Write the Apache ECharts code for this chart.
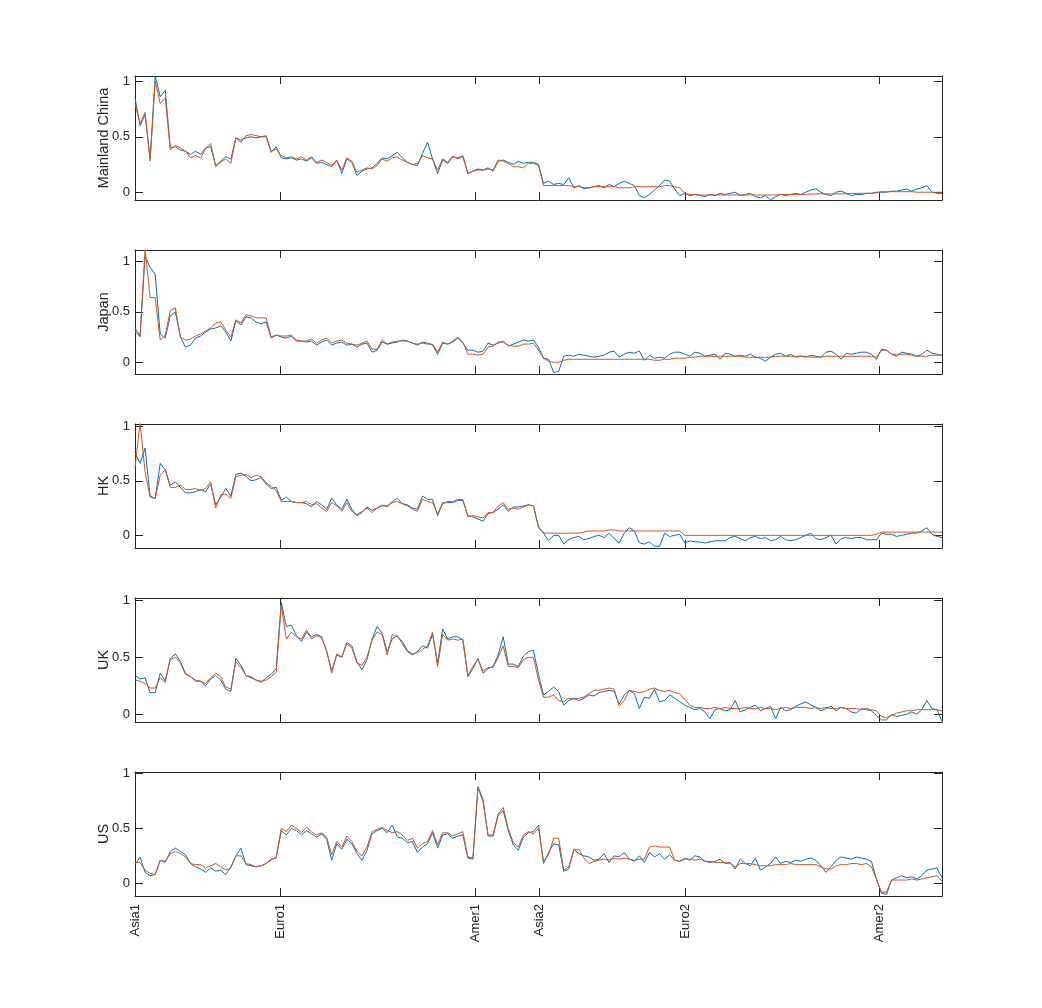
<!DOCTYPE html>
<html>
<head>
<meta charset="utf-8">
<script src="https://cdn.jsdelivr.net/npm/echarts@6/dist/echarts.min.js"></script>
<style>html,body{margin:0;padding:0;background:#fff}#c{width:1042px;height:1008px}</style>
</head>
<body>
<div id="c"></div>
<script>
// ---- tick labels / categories ----
const tickNames = ['Asia1', 'Euro1', 'Amer1', 'Asia2', 'Euro2', 'Amer2'];
const tickPos = [0, 28.75, 67.5, 80.1, 109.1, 147.6];
const yTicks = [0, 0.5, 1];
const panelNames = ['Mainland China', 'Japan', 'HK', 'UK', 'US'];
const yMin = [-0.07, -0.116, -0.116, -0.068, -0.115];
const yMax = [1.048, 1.112, 1.021, 1.02, 1.012];

// ---- series values (161 samples each) ----
const cnBlue = [
.85,.60,.70,.30,1.05,.86,.92,.40,.41,.38,
.37,.34,.37,.34,.40,.41,.24,.28,.32,.30,
.49,.47,.49,.50,.49,.50,.50,.36,.41,.31,
.30,.31,.29,.30,.28,.31,.26,.27,.25,.23,
.29,.17,.30,.27,.15,.19,.21,.22,.26,.31,
.30,.33,.36,.31,.27,.25,.24,.35,.45,.30,
.17,.29,.26,.32,.31,.33,.17,.19,.21,.20,
.22,.19,.28,.29,.27,.25,.28,.26,.27,.27,
.25,.08,.10,.07,.08,.07,.13,.04,.06,.03,
.04,.05,.06,.04,.07,.05,.08,.10,.08,.06,
-.03,-.05,-.02,.02,.06,.11,.10,.03,-.03,-.01,
-.03,-.02,-.03,-.04,-.02,-.03,-.01,-.02,-.01,.00,
-.03,-.02,-.01,-.04,-.05,-.03,-.07,-.04,-.02,-.03,
-.02,-.01,-.02,.00,.02,.03,.00,-.02,-.03,.00,
.01,-.01,-.03,-.02,-.02,-.01,-.01,.00,.00,.00,
.01,.01,.02,.03,.01,.03,.04,.06,.00,-.01,
-.01];
const cnOrange = [
.80,.62,.72,.28,1.00,.80,.85,.38,.42,.40,
.37,.31,.33,.31,.39,.44,.23,.27,.30,.26,
.49,.45,.51,.52,.51,.50,.51,.37,.39,.33,
.31,.32,.30,.32,.29,.32,.27,.29,.27,.24,
.29,.20,.31,.28,.18,.20,.22,.21,.24,.30,
.28,.31,.32,.29,.27,.25,.26,.33,.31,.30,
.20,.30,.27,.33,.30,.32,.17,.19,.20,.20,
.21,.20,.29,.28,.26,.23,.23,.22,.26,.26,
.24,.06,.06,.06,.06,.06,.06,.05,.05,.04,
.04,.05,.05,.05,.05,.05,.04,.04,.04,.05,
.05,.05,.05,.05,.05,.06,.06,.05,.04,-.01,
-.02,-.02,-.025,-.025,-.025,-.025,-.025,-.025,-.025,-.025,
-.025,-.025,-.025,-.025,-.025,-.025,-.025,-.025,-.02,-.02,
-.02,-.02,-.02,-.02,-.015,-.015,-.015,-.015,-.015,-.015,
-.015,-.015,-.01,-.01,-.01,-.01,-.01,-.005,.005,.005,
.005,.005,.005,.005,.005,.00,.00,.00,.00,.00,
.00];
const jpBlue = [
.34,.26,1.05,.94,.87,.28,.24,.46,.50,.25,
.15,.17,.24,.26,.30,.33,.34,.36,.30,.21,
.41,.37,.45,.44,.40,.38,.40,.24,.27,.25,
.24,.26,.21,.21,.20,.21,.17,.20,.22,.17,
.19,.20,.17,.18,.15,.18,.19,.10,.12,.20,
.18,.19,.20,.22,.21,.19,.17,.20,.19,.17,
.08,.19,.18,.20,.24,.19,.12,.12,.10,.11,
.19,.17,.19,.21,.16,.18,.20,.22,.21,.22,
.15,.04,.03,-.10,-.09,.06,.07,.06,.08,.07,
.06,.05,.06,.07,.10,.11,.05,.08,.10,.09,
.11,.02,.07,.04,.05,.04,.08,.10,.10,.08,
.06,.10,.09,.06,.07,.08,.03,.09,.08,.06,
.07,.06,.08,.05,.04,.01,.05,.08,.09,.06,
.08,.05,.06,.05,.07,.06,.05,.10,.11,.08,
.03,.09,.08,.09,.10,.10,.08,.03,.13,.12,
.08,.06,.10,.09,.08,.06,.08,.12,.09,.08,
.07];
const jpOrange = [
.31,.25,1.12,.64,.64,.22,.27,.51,.54,.25,
.22,.23,.26,.28,.31,.34,.39,.40,.32,.25,
.42,.39,.47,.46,.44,.44,.44,.25,.27,.26,
.26,.27,.22,.21,.21,.23,.19,.22,.24,.19,
.21,.22,.19,.18,.17,.19,.21,.13,.13,.22,
.18,.20,.21,.21,.21,.19,.18,.19,.18,.18,
.10,.20,.18,.21,.25,.20,.08,.08,.07,.08,
.15,.16,.20,.20,.17,.16,.16,.18,.18,.19,
.12,.04,.01,.00,.00,.02,.03,.03,.03,.03,
.03,.03,.03,.03,.03,.03,.03,.03,.03,.03,
.03,.03,.03,.02,.02,.03,.03,.04,.04,.04,
.05,.05,.06,.06,.06,.06,.06,.06,.06,.06,
.06,.05,.05,.05,.05,.05,.05,.06,.06,.06,
.06,.06,.06,.06,.05,.05,.05,.06,.06,.06,
.06,.06,.06,.06,.06,.06,.06,.05,.12,.12,
.08,.08,.08,.08,.07,.06,.06,.06,.07,.07,
.07];
const hkBlue = [
.76,.66,.80,.36,.34,.66,.60,.46,.49,.44,
.39,.39,.40,.42,.40,.47,.28,.35,.43,.36,
.56,.57,.54,.50,.51,.53,.47,.43,.44,.32,
.35,.31,.30,.30,.29,.26,.31,.28,.24,.34,
.28,.24,.33,.24,.18,.21,.26,.23,.25,.27,
.27,.31,.34,.29,.28,.25,.24,.36,.33,.33,
.18,.30,.30,.30,.32,.32,.18,.17,.15,.13,
.20,.21,.24,.28,.22,.26,.26,.27,.28,.27,
.08,.02,-.05,.00,.00,-.08,-.04,-.02,-.01,-.04,
-.03,-.01,.00,-.02,.02,-.03,-.07,.02,.07,.04,
-.07,-.08,-.06,-.10,-.10,.02,-.01,.00,.01,-.07,
-.05,-.06,-.06,-.07,-.06,-.05,-.05,-.05,-.02,-.01,
-.03,-.05,-.02,-.01,-.03,-.02,-.05,-.04,-.01,-.04,
-.05,-.04,-.02,.00,.02,-.03,-.04,-.02,.00,-.08,
-.03,-.02,-.03,-.02,-.02,-.04,-.04,-.04,.02,.01,
.01,-.01,.00,.01,.02,.02,.04,.07,.01,-.01,
-.02];
const hkOrange = [
.62,1.03,.58,.35,.34,.55,.60,.44,.44,.46,
.42,.42,.43,.41,.43,.49,.25,.37,.38,.34,
.54,.55,.56,.53,.55,.54,.48,.45,.41,.31,
.31,.31,.30,.30,.31,.28,.29,.25,.22,.30,
.27,.22,.30,.22,.19,.22,.25,.21,.25,.28,
.26,.30,.31,.29,.27,.24,.22,.33,.31,.30,
.20,.29,.31,.31,.33,.33,.17,.18,.17,.16,
.21,.21,.27,.30,.24,.25,.24,.26,.28,.27,
.07,.02,.02,.02,.02,.02,.02,.02,.02,.03,
.04,.04,.04,.04,.05,.05,.04,.04,.04,.04,
.04,.04,.04,.04,.04,.04,.04,.04,.04,.00,
.00,.00,.00,.00,.00,.00,.00,.00,.00,.00,
.00,.00,.00,.00,.00,.00,.00,.00,.00,.00,
.00,.00,.00,.00,.00,.00,.00,.00,.00,.00,
.00,.00,.00,.00,.00,.00,.00,.01,.03,.03,
.03,.03,.03,.03,.03,.03,.03,.03,.03,.03,
.03];
const ukBlue = [
.34,.31,.32,.19,.19,.36,.29,.49,.53,.46,
.36,.33,.29,.29,.25,.31,.34,.30,.22,.20,
.49,.43,.34,.32,.30,.28,.32,.35,.40,.98,
.77,.78,.69,.64,.72,.68,.70,.68,.55,.38,
.52,.50,.63,.60,.46,.39,.48,.66,.77,.71,
.55,.66,.69,.62,.55,.52,.55,.60,.58,.70,
.45,.75,.66,.68,.68,.65,.33,.40,.49,.36,
.40,.42,.52,.68,.44,.44,.42,.51,.55,.56,
.35,.17,.20,.24,.20,.08,.12,.14,.12,.14,
.17,.16,.19,.20,.21,.20,.09,.17,.21,.18,
.05,.15,.14,.22,.11,.12,.17,.14,.11,.08,
.06,.04,.05,.02,-.04,.04,.05,.03,.04,.12,
.02,.04,.06,.08,.03,.05,.07,-.04,.06,.03,
.04,.07,.09,.11,.08,.06,.03,.05,.07,.03,
.06,.05,.02,.01,.05,.04,.03,-.01,-.05,-.05,
.00,-.02,-.01,.00,.02,.00,.04,.12,.05,.04,
-.06];
const ukOrange = [
.30,.29,.27,.23,.23,.32,.28,.48,.50,.45,
.35,.33,.30,.29,.27,.32,.36,.33,.24,.22,
.46,.41,.34,.33,.30,.29,.30,.33,.37,.96,
.66,.72,.68,.66,.74,.66,.69,.67,.56,.36,
.53,.50,.62,.58,.45,.43,.50,.65,.72,.70,
.52,.70,.68,.64,.56,.53,.54,.57,.60,.72,
.42,.70,.65,.66,.65,.66,.34,.42,.48,.38,
.41,.41,.50,.60,.42,.42,.41,.48,.50,.50,
.30,.15,.15,.17,.12,.11,.14,.13,.14,.15,
.18,.21,.21,.22,.23,.22,.07,.12,.21,.20,
.19,.20,.22,.23,.21,.20,.21,.19,.18,.13,
.08,.06,.06,.05,.05,.06,.05,.06,.05,.05,
.05,.06,.05,.05,.06,.05,.05,.04,.05,.06,
.05,.06,.06,.06,.05,.06,.05,.06,.05,.05,
.06,.05,.05,.05,.04,.05,.04,.03,-.02,-.03,
-.01,.01,.02,.03,.03,.04,.04,.04,.04,.04,
.03];
const usBlue = [
.17,.24,.10,.07,.08,.21,.19,.29,.32,.29,
.26,.18,.15,.13,.10,.14,.11,.12,.08,.15,
.25,.32,.17,.16,.15,.16,.18,.22,.23,.48,
.44,.50,.48,.44,.48,.45,.42,.45,.40,.21,
.36,.31,.40,.36,.27,.21,.30,.45,.48,.50,
.46,.53,.42,.41,.37,.38,.28,.33,.36,.46,
.32,.44,.45,.41,.43,.44,.23,.22,.88,.76,
.43,.43,.62,.66,.48,.35,.30,.42,.46,.47,
.53,.18,.28,.36,.35,.11,.13,.31,.27,.25,
.24,.21,.22,.27,.19,.25,.24,.28,.22,.20,
.25,.19,.28,.24,.27,.22,.26,.21,.20,.23,
.21,.25,.24,.20,.19,.20,.22,.18,.19,.13,
.22,.18,.16,.23,.12,.15,.18,.24,.18,.20,
.19,.21,.20,.22,.23,.21,.16,.10,.15,.21,
.24,.23,.22,.24,.23,.22,.20,.04,-.09,-.10,
.03,.05,.07,.05,.06,.04,.07,.12,.13,.14,
.05];
const usOrange = [
.19,.19,.12,.09,.08,.21,.20,.27,.29,.27,
.24,.18,.17,.17,.14,.16,.18,.15,.12,.14,
.25,.25,.18,.17,.15,.16,.18,.21,.24,.50,
.47,.53,.50,.46,.51,.47,.44,.46,.42,.26,
.38,.33,.43,.38,.29,.25,.33,.47,.49,.51,
.48,.46,.47,.44,.39,.41,.32,.36,.38,.48,
.35,.46,.46,.43,.45,.47,.24,.23,.87,.74,
.44,.44,.63,.69,.50,.37,.33,.44,.47,.45,
.50,.20,.26,.41,.41,.12,.15,.30,.31,.23,
.18,.20,.21,.22,.21,.23,.22,.23,.22,.21,
.22,.22,.33,.34,.33,.33,.33,.21,.20,.22,
.22,.21,.22,.20,.20,.19,.19,.19,.18,.15,
.18,.18,.18,.17,.16,.16,.16,.17,.17,.17,
.18,.17,.17,.17,.17,.17,.15,.13,.13,.16,
.17,.17,.18,.18,.17,.18,.15,.04,-.08,-.08,
.03,.03,.03,.03,.04,.03,.04,.05,.06,.07,
.02];

const blueSets = [cnBlue, jpBlue, hkBlue, ukBlue, usBlue];
const orangeSets = [cnOrange, jpOrange, hkOrange, ukOrange, usOrange];

// ---- layout / style ----
const FONT = '"Liberation Sans", Arial, Helvetica, sans-serif';
const AX = '#262626';
const tops = [76, 250, 424, 598, 772];
const H = 124, L = 135, W = 807;
const nPts = cnBlue.length - 1;

function tickName(v) {
  let best = 0, d = 1e9;
  tickPos.forEach((p, i) => { if (Math.abs(p - v) < d) { d = Math.abs(p - v); best = i; } });
  return tickNames[best];
}

const grid = [], xAxis = [], yAxis = [], series = [];
for (let k = 0; k < 5; k++) {
  grid.push({ left: L, top: tops[k], width: W, height: H, containLabel: false });
  const lineSt = { show: true, onZero: false, lineStyle: { color: AX, width: 1 } };
  const xTick = { show: true, inside: true, length: 8, customValues: tickPos, lineStyle: { color: AX, width: 1 } };
  xAxis.push({
    type: 'value', gridIndex: k, position: 'bottom', min: 0, max: nPts,
    axisLine: lineSt, axisTick: xTick, splitLine: { show: false },
    axisLabel: {
      show: k === 4, customValues: tickPos, rotate: 90, margin: 8,
      formatter: tickName, color: AX, fontFamily: FONT, fontSize: 13
    }
  });
  xAxis.push({
    type: 'value', gridIndex: k, position: 'top', min: 0, max: nPts,
    axisLine: lineSt, axisTick: xTick, splitLine: { show: false },
    axisLabel: { show: false, customValues: tickPos }
  });
  const yTick = { show: true, inside: true, length: 8, customValues: yTicks, lineStyle: { color: AX, width: 1 } };
  yAxis.push({
    type: 'value', gridIndex: k, position: 'left', min: yMin[k], max: yMax[k],
    name: panelNames[k], nameLocation: 'middle', nameRotate: 90, nameGap: 24,
    nameMoveOverlap: false,
    nameTextStyle: { color: AX, fontFamily: FONT, fontSize: 14.5 },
    axisLine: lineSt, axisTick: yTick, splitLine: { show: false },
    axisLabel: {
      customValues: yTicks, margin: 5, color: AX, fontFamily: FONT, fontSize: 13,
      formatter: v => (Math.abs(v - 0.5) < 1e-6 ? '0.5' : String(Math.round(v)))
    }
  });
  yAxis.push({
    type: 'value', gridIndex: k, position: 'right', min: yMin[k], max: yMax[k],
    axisLine: lineSt, axisTick: yTick, splitLine: { show: false },
    axisLabel: { show: false, customValues: yTicks }
  });
  const mk = (arr, color) => ({
    type: 'line', xAxisIndex: 2 * k, yAxisIndex: 2 * k,
    data: arr.map((v, i) => [i, v]),
    showSymbol: false, symbol: 'none', clip: true, silent: true,
    lineStyle: { color: color, width: 1 }, itemStyle: { color: color }
  });
  series.push(mk(blueSets[k], '#0072BD'));
  series.push(mk(orangeSets[k], '#D95319'));
}

const chart = echarts.init(document.getElementById('c'), null, { renderer: 'canvas' });
chart.setOption({
  backgroundColor: '#ffffff',
  animation: false,
  grid, xAxis, yAxis, series
});
</script>
</body>
</html>
